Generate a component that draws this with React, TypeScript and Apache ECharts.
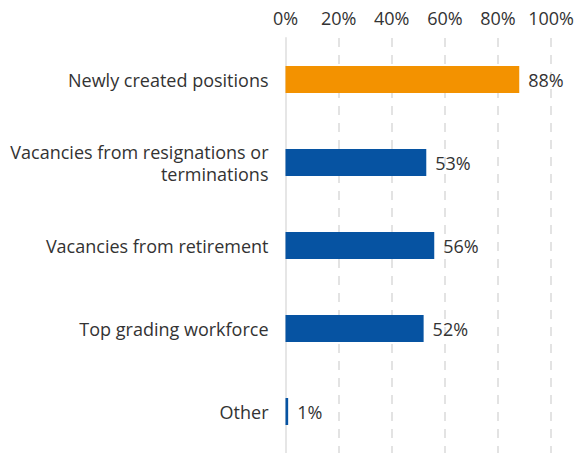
import React, { useEffect, useRef } from "react";
import * as echarts from "echarts";

const categories = [
  "Newly created positions",
  "Vacancies from resignations or\nterminations",
  "Vacancies from retirement",
  "Top grading workforce",
  "Other",
];
const values = [88, 53, 56, 52, 1];
const barColors = ["#F39200", "#0653A2", "#0653A2", "#0653A2", "#0653A2"];
const tickValues = [0, 20, 40, 60, 80, 100];

export default function App() {
  const ref = useRef<HTMLDivElement>(null);
  useEffect(() => {
    document.body.style.margin = "0";
    const chart = echarts.init(ref.current!, null, { renderer: "svg" });
    const font = "'Open Sans', 'Noto Sans', sans-serif";
    chart.setOption({
      animation: false,
      grid: { left: 285.5, right: 25.3, top: 38, height: 417, containLabel: false },
      xAxis: {
        type: "value",
        position: "top",
        min: tickValues[0],
        max: tickValues[tickValues.length - 1],
        interval: 20,
        axisLine: { show: false },
        axisTick: { show: false },
        axisLabel: {
          formatter: "{value}%",
          color: "#333333",
          fontSize: 18,
          fontFamily: font,
          margin: 11,
        },
        splitLine: {
          show: true,
          lineStyle: { color: "#e3e3e3", width: 2, type: [9, 8] },
        },
      },
      yAxis: {
        type: "category",
        inverse: true,
        data: categories,
        axisLine: { show: true, lineStyle: { color: "#e6e6e6", width: 2 } },
        axisTick: { show: false },
        axisLabel: {
          color: "#333333",
          fontSize: 18,
          fontFamily: font,
          margin: 17,
          lineHeight: 22,
          align: "right",
        },
      },
      series: [
        {
          type: "bar",
          barWidth: 27,
          data: values.map((v, i) => ({ value: v, itemStyle: { color: barColors[i] } })),
          label: {
            show: true,
            position: "right",
            distance: 9,
            formatter: "{c}%",
            color: "#333333",
            fontSize: 18,
            fontFamily: font,
          },
        },
      ],
    });
    return () => chart.dispose();
  }, []);
  return <div ref={ref} style={{ width: 577, height: 453 }} />;
}
